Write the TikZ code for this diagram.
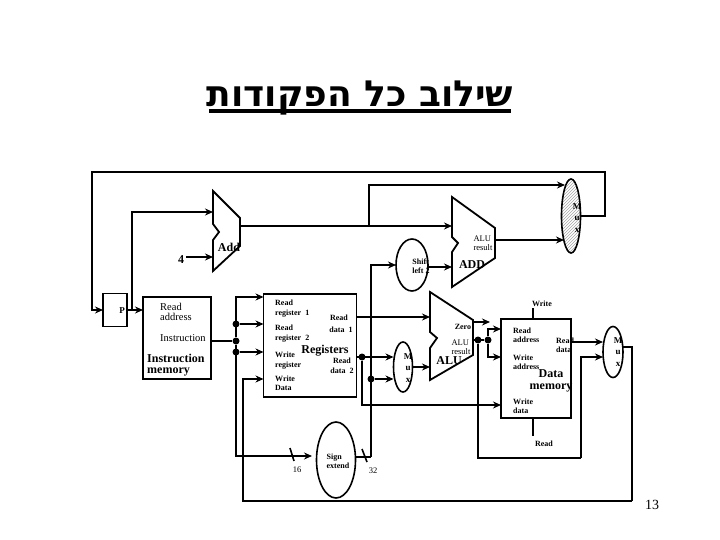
\documentclass[tikz,border=0pt]{standalone}
\usepackage{fontspec}
\setmainfont{Liberation Serif}
\newfontfamily\hebfont[Script=Hebrew]{DejaVu Sans}
\TeXXeTstate=1
\usetikzlibrary{arrows.meta,positioning,calc,shapes.geometric,patterns}
\begin{document}
\begin{tikzpicture}[x=1pt,y=-1pt,line join=miter,
wire/.style={line width=1.6pt},arr/.style={wire,-{Stealth[length=8pt,width=7pt]}},
blk/.style={draw,line width=1.6pt,inner sep=0pt,outer sep=0pt,fill=white},
oval/.style={blk,ellipse},chip/.style={line width=1.8pt,fill=white},
dot/.style={circle,fill=black,inner sep=0pt,minimum size=7pt},
lab/.style={inner sep=0pt,align=left,anchor=west,font=\fontsize{8.5}{10}\selectfont},
tiny/.style={lab,font=\fontsize{8}{9}\selectfont\bfseries},
thin lab/.style={lab,font=\fontsize{8.5}{9}\selectfont},
mlab/.style={lab,align=center,anchor=center,font=\fontsize{9}{11.5}\selectfont\bfseries},
bold/.style={inner sep=0pt,align=left,font=\fontsize{12}{11.5}\selectfont\bfseries}]
\useasboundingbox (0,0) rectangle (720,540);
% title
\node[inner sep=0pt,anchor=base,font=\fontsize{36}{36}\selectfont\hebfont\bfseries] (title) at (360,107) {\beginR שילוב כל הפקודות\endR};
\coordinate (ulinea) at (209,111);\coordinate (ulineb) at (511,111);
\draw[line width=3.5pt] (ulinea)--(ulineb);
% boxes
\node[blk,minimum width=24pt,minimum height=33pt] (pc) at (115,310) {};
\node[blk,minimum width=68pt,minimum height=82pt] (imem) at (177,338) {};
\node[blk,minimum width=93pt,minimum height=103pt] (regs) at (310,345.5) {};
\node[blk,minimum width=70pt,minimum height=99pt] (dmem) at (536,368.5) {};
% ovals
\node[oval,minimum width=19pt,minimum height=74pt,pattern=north east lines,pattern color=gray!70] (muxtop) at (571,216) {};
\node[oval,minimum width=19pt,minimum height=50pt] (muxreg) at (403,367) {};
\node[oval,minimum width=20pt,minimum height=51pt] (muxmem) at (613,352) {};
\node[oval,minimum width=32pt,minimum height=52pt] (shiftl) at (412,265) {};
\node[oval,minimum width=39pt,minimum height=76pt] (signx) at (336,460) {};
% adders
\draw[chip] (213,191)--(240,218)--(240,246)--(213,271)--(213,240)--(219,232)--(213,224)--cycle;
\draw[chip] (452,197)--(495,228)--(495,258)--(452,287)--(452,252)--(458,243)--(452,237)--cycle;
\draw[chip] (430,292)--(473,320)--(473,355)--(430,380)--(430,348)--(437,338)--(430,332)--cycle;
\coordinate (addina) at (213,212);\coordinate (addinb) at (213,257);\coordinate (addout) at (240,226);
\coordinate (brina) at (452,226);\coordinate (brinb) at (452,267);\coordinate (brout) at (495,240);
\coordinate (aluina) at (430,317);\coordinate (aluinb) at (430,367);\coordinate (aluzero) at (473,322);\coordinate (aluout) at (473,340);
% free ends
\coordinate (topl) at (92,172);\coordinate (topr) at (605,172);
\coordinate (four) at (186,257);\coordinate (muxtopa) at (565,185);\coordinate (muxtopb) at (564,240);
\coordinate (pcj) at (132,310);\coordinate (addj) at (369,226);
\coordinate (zeroend) at (490,322);\coordinate (busb) at (234,456);\coordinate (sgnend) at (312,456);
\coordinate (sgnout) at (371,457);\coordinate (wrtop) at (533,308);\coordinate (rdbot) at (533,436);
\coordinate (retr) at (632,501);\coordinate (retl) at (243,501);
\coordinate (frame) at (478,458);\coordinate (framer) at (581,458);
% junctions
\node[dot] (ja) at (236,324) {};\node[dot] (jb) at (236,341) {};\node[dot] (jc) at (236,352) {};
\node[dot] (jd) at (362,357) {};\node[dot] (je) at (371,379) {};
\node[dot] (jf) at (478,340) {};\node[dot] (jg) at (488,340) {};
% connectors
\draw[arr] (muxtop.east)-|(topr)--(topl)|-(pc.west);
\draw[arr] (pc.east)--(pc.east-|imem.west);
\draw[arr] (pcj)|-(addina);
\draw[arr] (four)--(addinb);
\draw[arr] (addout)--(brina);
\draw[arr] (addj)|-(muxtopa);
\draw[arr] (brout)--(muxtopb);
\draw[arr] (shiftl.east|-brinb)--(brinb);
\draw[wire] (imem.east|-jb)--(jb);
\draw[arr] (jb)|-(regs.west|-0,297);
\draw[arr] (ja)--(ja-|regs.west);
\draw[arr] (jc)--(jc-|regs.west);
\draw[arr] (jb)|-(sgnend);
\draw[arr] (retr)--(retl)|-(regs.west|-0,379);
\draw[wire] (signx.east|-sgnout)--(sgnout);
\draw[arr] (sgnout)|-(shiftl.west);
\draw[arr] (je)--(je-|muxreg.west);
\draw[arr] (regs.east|-jd)--(jd-|muxreg.west);
\draw[arr] (jd)|-(dmem.west|-0,405);
\draw[arr] (regs.east|-aluina)--(aluina);
\draw[arr] (muxreg.east|-aluinb)--(aluinb);
\draw[arr] (aluzero)--(zeroend);
\draw[wire] (aluout)--(jg);
\draw[arr] (jg)|-(dmem.west|-0,329);
\draw[arr] (jg)|-(dmem.west|-0,357);
\draw[wire] (jf)|-(frame)--(framer);
\draw[arr] (framer)|-(muxmem.west|-0,357);
\draw[arr] (dmem.east|-0,342)--(muxmem.west|-0,342);
\draw[wire] (muxmem.east|-0,347)-|(retr);
\draw[wire] (dmem.north-|wrtop)--(wrtop);
\draw[wire] (dmem.south-|rdbot)--(rdbot);
\coordinate (sla) at (290,448);\coordinate (slb) at (294,461);\coordinate (slc) at (362,449);\coordinate (sld) at (367,462);
\draw[wire] (sla)--(slb);\draw[wire] (slc)--(sld);
% labels
\node[bold,font=\fontsize{9}{9}\selectfont\bfseries] (plab) at (122,311) {P};
\node[bold] (addlab) at (229,247) {Add};
\node[bold] (fourlab) at (181,260) {4};
\node[lab,font=\fontsize{10.5}{11}\selectfont,anchor=west] (imemread) at (160,312) {Read\\[-1pt]address};
\node[lab,font=\fontsize{10.5}{11}\selectfont] (imeminst) at (160,338) {Instruction};
\node[bold,anchor=west] (imemname) at (147,365) {Instruction\\memory};
\node[tiny] (rega) at (275,303) {Read};
\node[tiny] (regb) at (275,314) {register\ \ 1};
\node[tiny] (regc) at (275,328) {Read};
\node[tiny] (regd) at (275,339) {register\ \ 2};
\node[tiny] (rege) at (275,355) {Write};
\node[tiny] (regf) at (275,366) {register};
\node[tiny] (regg) at (275,379) {Write};
\node[tiny] (regh) at (275,388) {Data};
\node[tiny,anchor=center] (regi) at (339,318) {Read};
\node[tiny,anchor=center] (regj) at (341,330) {data\ \ 1};
\node[tiny,anchor=center] (regk) at (342,361) {Read};
\node[tiny,anchor=center] (regl) at (342,371) {data\ \ 2};
\node[bold] (regname) at (325,351) {Registers};
\node[tiny,anchor=center] (shlab) at (421,266) {Shift\\left 2};
\node[thin lab,anchor=center] (brlab) at (483,243) {ALU\\result};
\node[bold] (brname) at (472,265) {ADD};
\node[tiny,anchor=center] (zerolab) at (463,327) {Zero};
\node[thin lab,anchor=center] (alulab) at (461,347) {ALU\\result};
\node[bold] (aluname) at (449,361) {ALU};
\node[mlab] (muxtoplab) at (577,218) {M\\u\\x};
\node[mlab] (muxreglab) at (408,368) {M\\u\\x};
\node[mlab] (muxmemlab) at (618,352) {M\\u\\x};
\node[tiny,anchor=center] (wrlab) at (542,304) {Write};
\node[tiny,anchor=center] (rdlab) at (544,444) {Read};
\node[tiny] (dmema) at (513,335) {Read\\address};
\node[tiny] (dmemb) at (556,345) {Read\\data};
\node[tiny] (dmemc) at (513,362) {Write\\address};
\node[tiny] (dmemd) at (513,406) {Write\\data};
\node[bold,align=center] (dmemname) at (551,381) {Data\\memory};
\node[tiny,anchor=center] (sgnlab) at (338,461) {Sign\\extend};
\node[thin lab,anchor=center] (sixteen) at (297,470) {16};
\node[thin lab,anchor=center] (thirtytwo) at (373,471) {32};
\node[inner sep=0pt,font=\fontsize{14}{14}\selectfont] (pagenum) at (652,505) {13};
\end{tikzpicture}
\end{document}
